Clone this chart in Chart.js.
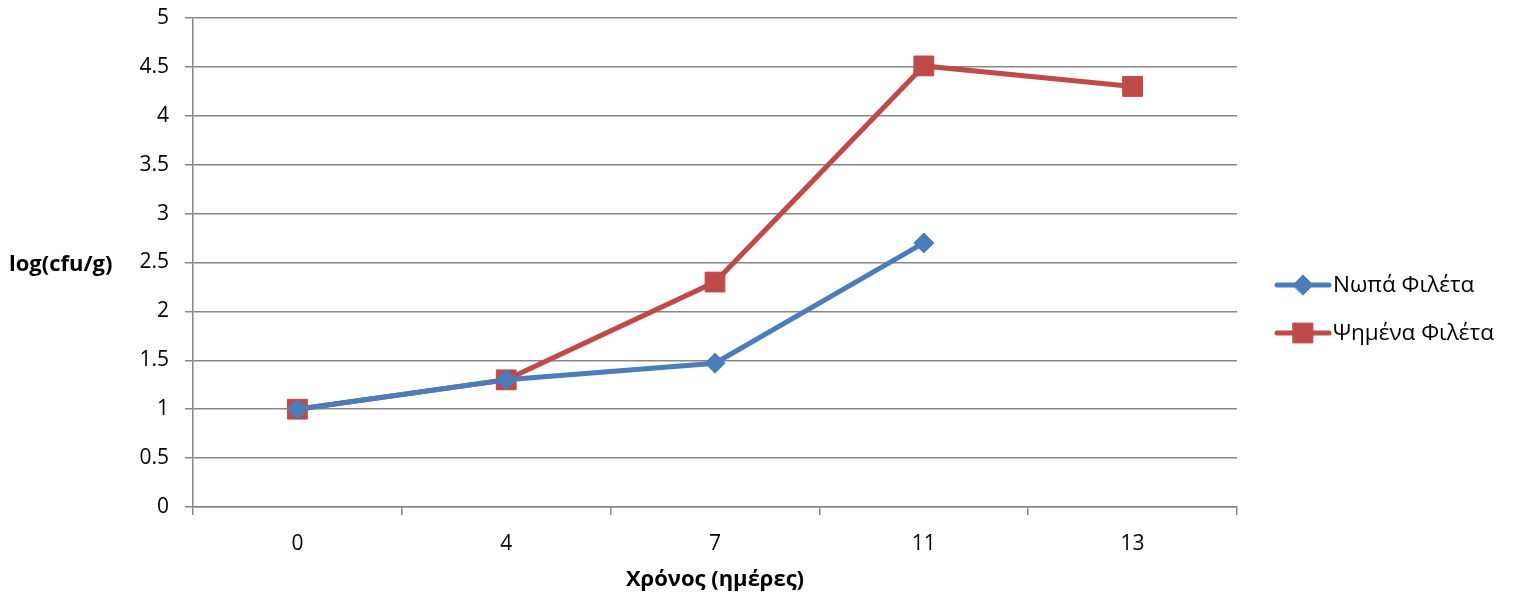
<!DOCTYPE html>
<html>
<head>
<meta charset="utf-8">
<script src="https://cdn.jsdelivr.net/npm/chart.js@4/dist/chart.umd.min.js"></script>
<style>
html,body{margin:0;padding:0;background:#fff;}
#wrap{width:1516px;height:597px;position:relative;}
</style>
</head>
<body>
<div id="wrap"><canvas id="c" width="1516" height="597"></canvas></div>
<script>
const categories = ['0', '4', '7', '11', '13'];
const rawFillets = [1, 1.3, 1.47, 2.7, null];
const smokedFillets = [1, 1.3, 2.3, 4.51, 4.3];
const seriesNames = ['Νωπά Φιλέτα', 'Ψημένα Φιλέτα'];
const yTitle = 'log(cfu/g)';
const xTitle = 'Χρόνος (ημέρες)';

const FONT = '"Open Sans", "Noto Sans", sans-serif';
const GRID = '#878787';
const BLUE = '#4A7EBB';
const RED = '#BE4B48';

const extras = {
  id: 'extras',
  afterDraw(chart) {
    const ctx = chart.ctx;
    const area = chart.chartArea;
    ctx.save();
    ctx.font = 'bold 22px ' + FONT;
    ctx.fillStyle = '#000';
    ctx.textAlign = 'left';
    ctx.textBaseline = 'middle';
    ctx.fillText(yTitle, 9, (area.top + area.bottom) / 2 + 2);
    const lx = 1277, ly0 = 285, gap = 48;
    chart.data.datasets.forEach((d, i) => {
      const y = ly0 + i * gap;
      ctx.strokeStyle = d.borderColor;
      ctx.lineWidth = 5;
      ctx.lineCap = 'round';
      ctx.beginPath();
      ctx.moveTo(lx, y);
      ctx.lineTo(lx + 52, y);
      ctx.stroke();
      ctx.fillStyle = d.pointBackgroundColor;
      ctx.strokeStyle = d.pointBorderColor;
      ctx.lineWidth = 1;
      Chart.helpers.drawPoint(ctx, {
        pointStyle: d.pointStyle,
        radius: d.pointRadius,
        rotation: 0,
        borderWidth: 1
      }, lx + 26, y);
      ctx.fillStyle = '#000';
      ctx.font = '22.5px ' + FONT;
      ctx.textAlign = 'left';
      ctx.textBaseline = 'middle';
      ctx.fillText(d.label, lx + 56, y + 1);
    });
    ctx.restore();
  }
};

new Chart(document.getElementById('c'), {
  type: 'line',
  data: {
    labels: categories,
    datasets: [
      {
        label: seriesNames[0],
        data: rawFillets,
        borderColor: BLUE,
        backgroundColor: BLUE,
        pointBackgroundColor: BLUE,
        pointBorderColor: BLUE,
        borderWidth: 5,
        pointStyle: 'rectRot',
        pointRadius: 10,
        pointBorderWidth: 1,
        tension: 0,
        spanGaps: false
      },
      {
        label: seriesNames[1],
        data: smokedFillets,
        borderColor: RED,
        backgroundColor: RED,
        pointBackgroundColor: RED,
        pointBorderColor: RED,
        borderWidth: 5,
        pointStyle: 'rect',
        pointRadius: 14,
        pointBorderWidth: 1,
        tension: 0
      }
    ]
  },
  options: {
    responsive: false,
    animation: false,
    events: [],
    layout: { padding: { left: 130, right: 279, top: 18, bottom: 4 } },
    plugins: {
      legend: { display: false },
      tooltip: { enabled: false }
    },
    scales: {
      x: {
        type: 'category',
        offset: true,
        grid: {
          offset: true,
          drawOnChartArea: false,
          drawTicks: true,
          tickLength: 8,
          color: GRID,
          lineWidth: 1.5
        },
        border: { color: GRID, width: 1.5 },
        ticks: { color: '#000', font: { family: FONT, size: 21 }, padding: 16, maxRotation: 0 },
        title: {
          display: true,
          text: xTitle,
          color: '#000',
          font: { family: FONT, size: 22, weight: 'bold' },
          padding: { top: 6, bottom: 0 }
        },
        afterFit: s => { s.height = 86; s.paddingLeft = 0; s.paddingRight = 0; }
      },
      y: {
        min: 0,
        max: 5,
        ticks: {
          stepSize: 0.5,
          color: '#000',
          font: { family: FONT, size: 21 },
          padding: 16,
          callback: v => String(v)
        },
        grid: { color: GRID, lineWidth: 1.5, tickLength: 8 },
        border: { color: GRID, width: 1.5 },
        afterFit: s => { s.width = 63; s.paddingTop = 0; s.paddingBottom = 0; }
      }
    }
  },
  plugins: [extras]
});
</script>
</body>
</html>
